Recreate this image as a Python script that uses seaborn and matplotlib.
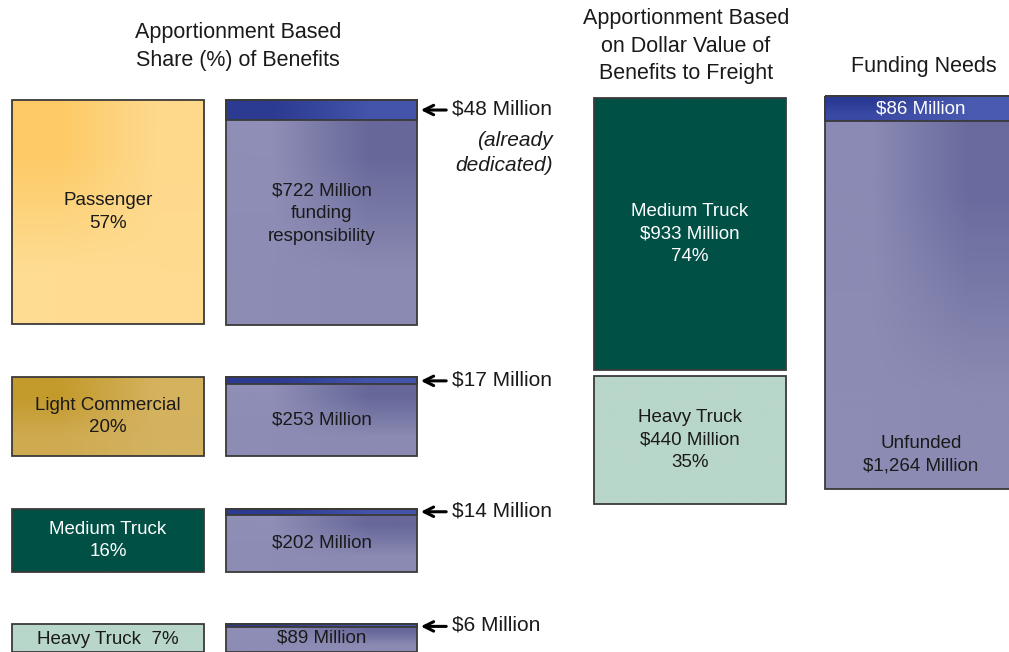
import numpy as np
import matplotlib
matplotlib.use("Agg")
import matplotlib.pyplot as plt
import seaborn as sns
from matplotlib.colors import to_rgb

sns.set_style("white")
plt.rcParams["font.family"] = ["Liberation Sans Narrow", "Liberation Sans", "DejaVu Sans"]

# data
left_labels = ["Passenger", "Light Commercial", "Medium Truck", "Heavy Truck"]
left_pct = [57, 20, 16, 7]
dedicated = [48, 17, 14, 6]
responsibility = [722, 253, 202, 89]
freight_labels = ["Medium Truck", "Heavy Truck"]
freight_value = [933, 440]
freight_pct = [74, 35]
needs_funded = 86
needs_unfunded = 1264

PCT_PX = 3.9
MIL_PX = 0.29
BAND_PX = 0.4

row_tops = [100, 376, 507, 622]
left_fill = [("#fdca66", "#fed98c", "#fedc92", "#fedb90"),
             ("#c39a2c", "#d5b25e", "#cfaa50", "#d3b260"),
             ("#005045", "#005045", "#005045", "#005045"),
             ("#b8d6ca", "#b8d6ca", "#b8d6ca", "#b8d6ca")]
left_text = ["#1a1a1a", "#1a1a1a", "white", "#1a1a1a"]
purple = ("#8e8eb6", "#67679a", "#8c8cb4", "#8a8ab2")
blue = ("#2c3a92", "#4454aa", "#2c3a92", "#4454aa")

fig = plt.figure(figsize=(10.09, 6.52), dpi=100)
ax = fig.add_axes([0, 0, 1, 1])
ax.set_xlim(0, 1009)
ax.set_ylim(649.5, 0)
ax.axis("off")


def gradient(bar, cols):
    x0, y0 = bar.get_x(), bar.get_y()
    w, h = bar.get_width(), bar.get_height()
    img = np.array([[to_rgb(cols[0]), to_rgb(cols[1])],
                    [to_rgb(cols[2]), to_rgb(cols[3])]])
    im = ax.imshow(img, extent=(x0, x0 + w, y0 + h, y0), interpolation="bilinear",
                   aspect="auto", zorder=1)
    im.set_clip_path(bar)


def box(xc, top, h, w, cols, lw=1.3):
    b = ax.bar(xc, h, bottom=top, width=w, color="none", edgecolor="#3a3a3a",
               linewidth=lw, zorder=2)[0]
    fill = ax.bar(xc, h, bottom=top, width=w, color=cols[0], linewidth=0, zorder=0.5)[0]
    gradient(fill, cols)
    return b


FS = 13.5
LS = 1.42
# titles
ax.text(238, 46, "Apportionment Based\nShare (%) of Benefits", ha="center", va="center",
        fontsize=15.5, linespacing=LS, color="#1a1a1a")
ax.text(686, 46, "Apportionment Based\non Dollar Value of\nBenefits to Freight", ha="center",
        va="center", fontsize=15.5, linespacing=LS, color="#1a1a1a")
ax.text(924, 66, "Funding Needs", ha="center", va="center", fontsize=15.5, color="#1a1a1a")

# left two columns
for i, lab in enumerate(left_labels):
    top = row_tops[i]
    h = left_pct[i] * PCT_PX
    box(108, top, h, 192, left_fill[i])
    if i == 3:
        txt = f"{lab}  {left_pct[i]}%"
    else:
        txt = f"{lab}\n{left_pct[i]}%"
    ax.text(108, top + (15 if i == 3 else h / 2), txt, ha="center", va="center",
            fontsize=FS, color=left_text[i], linespacing=LS, zorder=3)

    tot = (dedicated[i] + responsibility[i]) * MIL_PX
    box(321.5, top, tot, 191, purple)
    band = dedicated[i] * BAND_PX
    box(321.5, top, band, 191, blue)
    if i == 0:
        txt = f"${responsibility[i]} Million\nfunding\nresponsibility"
    else:
        txt = f"${responsibility[i]} Million"
    yc = top + band + (tot - band) / 2
    if i == 0:
        yc = 213
    if i == 3:
        yc = top + 14
    ax.text(321.5, yc, txt, ha="center", va="center", fontsize=FS, color="#1a1a1a",
            linespacing=LS, zorder=3)

    ay = top + max(band / 2, 2)
    ax.annotate("", xy=(418, ay), xytext=(449, ay),
                arrowprops=dict(arrowstyle="->", lw=2.2, color="black", mutation_scale=17))
    ax.text(452, ay - 1, f"${dedicated[i]} Million", ha="left", va="center", fontsize=15,
            color="#1a1a1a")

ax.text(553, 152, "(already\ndedicated)", ha="right", va="center", fontsize=15,
        style="italic", linespacing=1.4, color="#1a1a1a")

# freight column
ftop = 98
fcols = [("#005045",) * 4, ("#b8d6ca",) * 4]
ftext = ["white", "#1a1a1a"]
for i, lab in enumerate(freight_labels):
    h = freight_value[i] * MIL_PX
    box(690, ftop, h, 192, fcols[i])
    ax.text(690, ftop + h / 2, f"{lab}\n${freight_value[i]} Million\n{freight_pct[i]}%",
            ha="center", va="center", fontsize=FS, color=ftext[i], linespacing=LS, zorder=3)
    ftop += h + 6

# funding needs
ntop = 96
tot = (needs_funded + needs_unfunded) * MIL_PX
box(921, ntop, tot, 192, ("#8a8ab4", "#6a6a9e", "#8c8cb4", "#8a8ab2"))
band = needs_funded * MIL_PX
box(921, ntop, band, 192, ("#2a3a94", "#4a5ab0", "#3a4aa4", "#4a5ab0"))
ax.text(921, ntop + band / 2, f"${needs_funded} Million", ha="center", va="center",
        fontsize=FS, color="white", zorder=3)
ax.text(921, 453, f"Unfunded\n${needs_unfunded:,} Million", ha="center", va="center",
        fontsize=FS, color="#1a1a1a", linespacing=LS, zorder=3)

fig.savefig("out.png", dpi=100)
